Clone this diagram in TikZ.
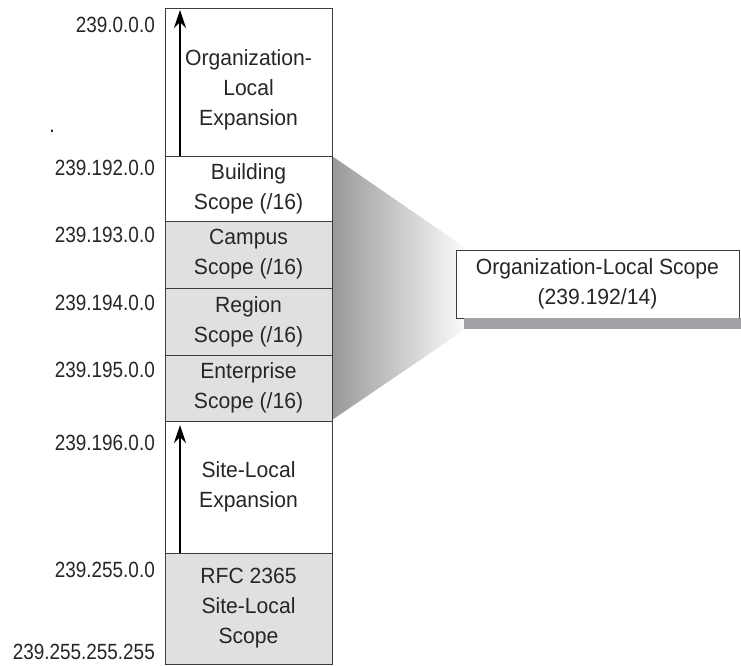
\documentclass[tikz,border=0pt]{standalone}
\usepackage{fontspec}
\setmainfont{Liberation Sans}[FakeStretch=0.96]
\newfontfamily\addrfont{Liberation Sans}[FakeStretch=0.86]
\usetikzlibrary{arrows.meta}
\definecolor{cellgray}{HTML}{E0E0E0}
\definecolor{edgegray}{HTML}{3C3C3C}
\definecolor{boxshade}{HTML}{A2A2A6}
\tikzset{
  txt/.style={font=\fontsize{22}{30}\selectfont, text=black!85},
  cell/.style={txt, draw=edgegray, line width=0.9pt, minimum width=167pt, inner sep=0pt, outer sep=0pt, align=center},
  addr/.style={font=\addrfont\fontsize{22}{30}\selectfont, text=black!85, anchor=east, inner sep=0pt},
  up/.style={-{Stealth[length=18pt,width=12pt]}, line width=1.2pt}
}

\begin{document}
\begin{tikzpicture}[x=1pt, y=-1pt]
    \useasboundingbox (0,0) rectangle (741,665);
    % fan towards the summary box
    \shade[left color=black!40, right color=white](332,156) -- (470,251) -- (470,326) -- (332,420) -- cycle;

    \node[cell, fill=white, minimum height=148pt](orgexp)at(248.5, 82){\rule{0pt}{32pt}Organization-\\Local\\Expansion};
    \node[cell, fill=white, minimum height=65pt](building)at(248.5, 188.5){Building\\Scope (/16)};
    \node[cell, fill=cellgray, minimum height=67pt](campus)at(248.5, 254.5){Campus\\Scope (/16)};
    \node[cell, fill=cellgray, minimum height=67pt](region)at(248.5, 321.5){Region\\Scope (/16)};
    \node[cell, fill=cellgray, minimum height=66pt](enterprise)at(248.5, 388){Enterprise\\Scope (/16)};
    \node[cell, fill=white, minimum height=132pt](sitexp)at(248.5, 487){Site-Local\\Expansion};
    \node[cell, fill=cellgray, minimum height=111pt](rfc)at(248.5, 608.5){RFC 2365\\Site-Local\\Scope};

    \coordinate(orgtip)at(180, 10);
    \coordinate(sitetip)at(180, 425);
    \draw[up](orgexp.south -| orgtip) -- (orgtip);
    \draw[up](sitexp.south -| sitetip) -- (sitetip);

    \node[addr](a0)at(155, 25){239.0.0.0};
    \node[addr](a192)at(155, 168){239.192.0.0};
    \node[addr](a193)at(155, 235){239.193.0.0};
    \node[addr](a194)at(155, 303){239.194.0.0};
    \node[addr](a195)at(155, 370){239.195.0.0};
    \node[addr](a196)at(155, 443){239.196.0.0};
    \node[addr](a255)at(155, 570){239.255.0.0};
    \node[addr](aend)at(155, 652){239.255.255.255};
    \node[txt, inner sep=0pt](dot)at(52, 131){.};

    \node[cell, fill=white, minimum width=283pt, minimum height=68pt](olscope)at(597.5, 284){Organization-Local Scope\\(239.192/14)};
    \fill[boxshade]([xshift=8pt]olscope.south west) rectangle ([xshift=2pt, yshift=-11pt]olscope.south east);
\end{tikzpicture}
\end{document}
